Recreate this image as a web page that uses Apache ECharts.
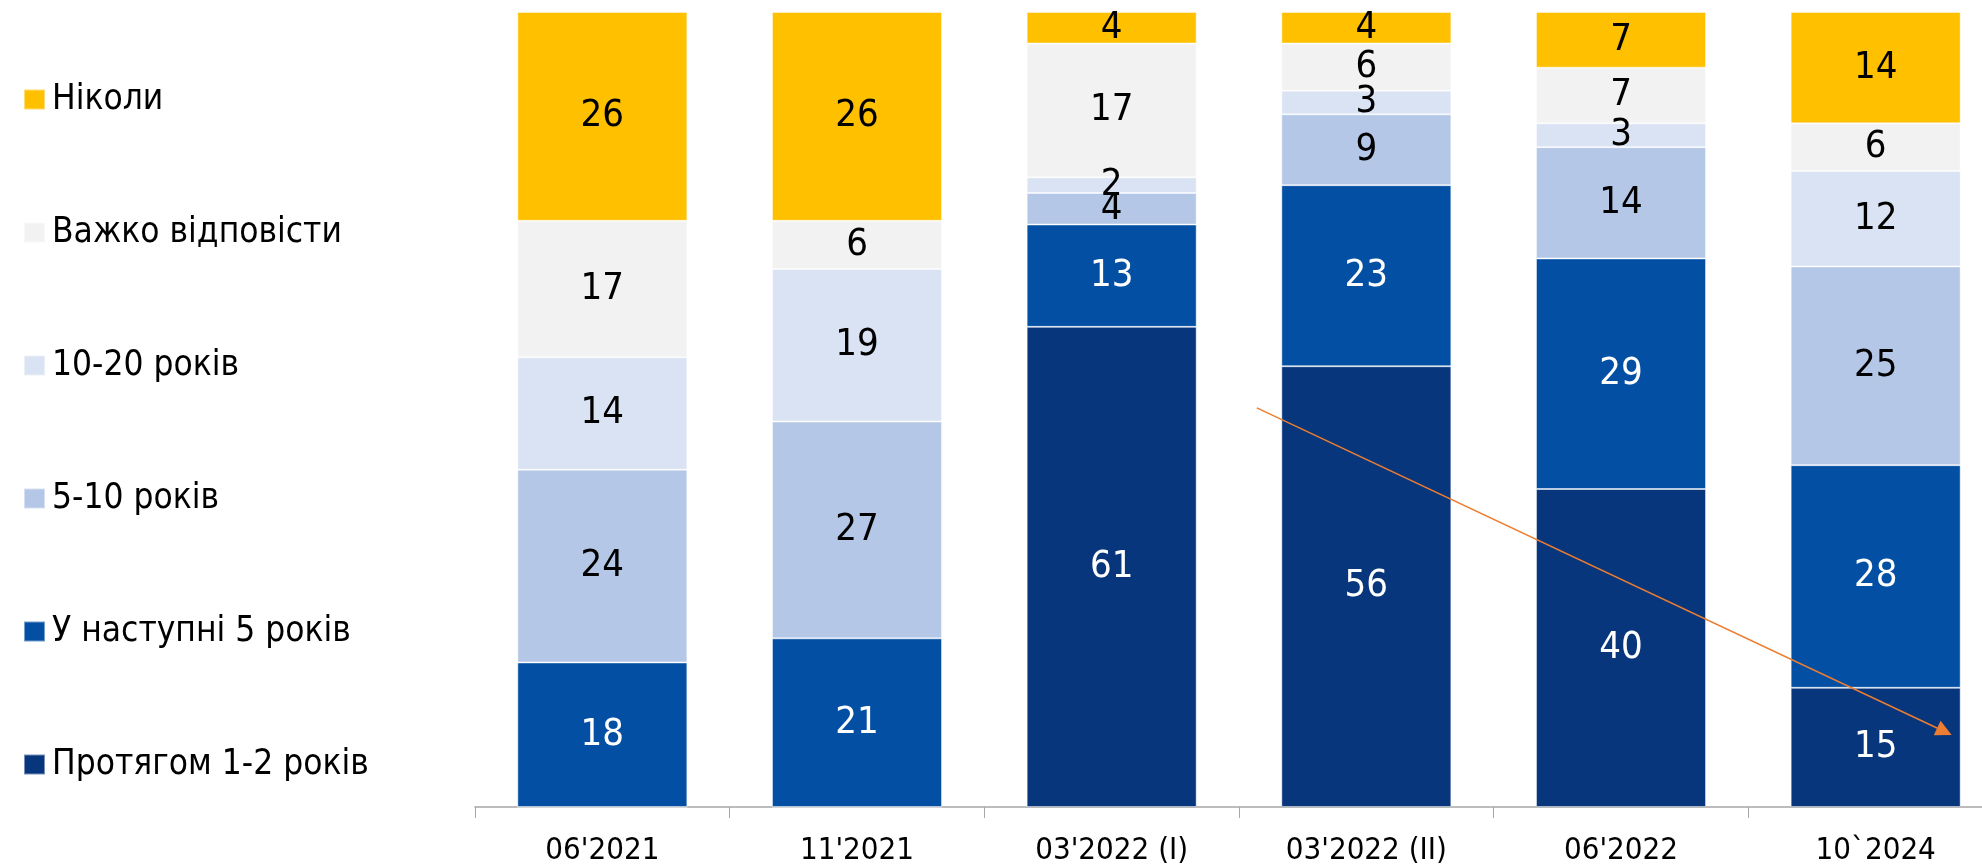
<!DOCTYPE html>
<html>
<head>
<meta charset="utf-8">
<script src="https://cdn.jsdelivr.net/npm/echarts@6/dist/echarts.min.js"></script>
<style>
  html, body { margin: 0; padding: 0; background: #fff; }
  #chart { width: 1982px; height: 867px; }
</style>
</head>
<body>
<div id="chart"></div>
<script>
// Категорії (хвилі опитування)
const categories = ["06'2021", "11'2021", "03'2022 (I)", "03'2022 (II)", "06'2022", "10`2024"];

// Значення рядів, знизу вгору
const within1to2 = [0, 0, 61, 56, 40, 15];
const next5 = [18, 21, 13, 23, 29, 28];
const years5to10 = [24, 27, 4, 9, 14, 25];
const years10to20 = [14, 19, 2, 3, 3, 12];
const hardToSay = [17, 6, 17, 6, 7, 6];
const never = [26, 26, 4, 4, 7, 14];

// Стрілка тренду: [позиція по осі категорій 0..6, значення %]
const trendArrow = [[3.07, 50.2], [5.77, 9.5]];

const seriesDefs = [
  { name: 'Протягом 1-2 років', data: within1to2, color: '#08367C', text: '#fff' },
  { name: 'У наступні 5 років', data: next5, color: '#034FA3', text: '#fff' },
  { name: '5-10 років', data: years5to10, color: '#B4C7E7', text: '#000' },
  { name: '10-20 років', data: years10to20, color: '#DAE3F3', text: '#000' },
  { name: 'Важко відповісти', data: hardToSay, color: '#F2F2F2', text: '#000' },
  { name: 'Ніколи', data: never, color: '#FFC000', text: '#000' }
];

const narrowFont = '"DejaVu Sans Condensed", "Liberation Sans Narrow", "DejaVu Sans", sans-serif';

// Суми по стовпцях, щоб звести кожен стовпець до 100%
const totals = categories.map((c, i) => seriesDefs.reduce((s, d) => s + d.data[i], 0));

const chart = echarts.init(document.getElementById('chart'));

const barSeries = seriesDefs.map(def => ({
  name: def.name,
  type: 'bar',
  stack: 'total',
  barWidth: 170,
  xAxisIndex: 0,
  yAxisIndex: 0,
  itemStyle: {
    color: def.color,
    borderColor: 'rgba(255,255,255,0.45)',
    borderWidth: 1
  },
  label: {
    show: true,
    position: 'inside',
    color: def.text,
    fontSize: 38,
    fontFamily: narrowFont,
    formatter: p => {
      const v = def.data[p.dataIndex];
      return v ? String(v) : '';
    }
  },
  data: def.data.map((v, i) => v / totals[i] * 100)
}));

const option = {
  animation: false,
  legend: {
    orient: 'vertical',
    left: 18,
    top: 77,
    itemWidth: 21,
    itemHeight: 20,
    itemGap: 98,
    icon: 'rect',
    selectedMode: false,
    textStyle: {
      fontSize: 35,
      color: '#000',
      fontFamily: narrowFont,
      padding: [0, 0, 0, 2]
    },
    data: seriesDefs.map(d => d.name).reverse()
  },
  // остання категорія в оригіналі обрізана правим краєм
  grid: {
    left: 475,
    width: 1528,
    top: 12,
    bottom: 60,
    outerBoundsMode: 'none',
    containLabel: false
  },
  xAxis: [
    {
      type: 'category',
      data: categories,
      axisLine: { lineStyle: { color: '#a6a6a6', width: 1.5 } },
      axisTick: { show: true, length: 11, lineStyle: { color: '#a6a6a6' } },
      axisLabel: {
        color: '#000',
        fontSize: 31,
        margin: 28,
        fontFamily: narrowFont
      }
    },
    { type: 'value', min: 0, max: 6, show: false }
  ],
  yAxis: [
    { type: 'value', min: 0, max: 100, show: false },
    { type: 'value', min: 0, max: 100, show: false }
  ],
  series: barSeries.concat([{
    type: 'scatter',
    xAxisIndex: 1,
    yAxisIndex: 1,
    symbolSize: 0,
    silent: true,
    data: trendArrow,
    markLine: {
      silent: true,
      symbol: ['none', 'triangle'],
      symbolSize: [16, 16],
      label: { show: false },
      lineStyle: { color: '#ED7D31', width: 1.5, type: 'solid' },
      data: [[{ coord: trendArrow[0] }, { coord: trendArrow[1] }]]
    }
  }])
};

chart.setOption(option);

window.addEventListener('resize', () => {
  chart.resize();
});
</script>
</body>
</html>
